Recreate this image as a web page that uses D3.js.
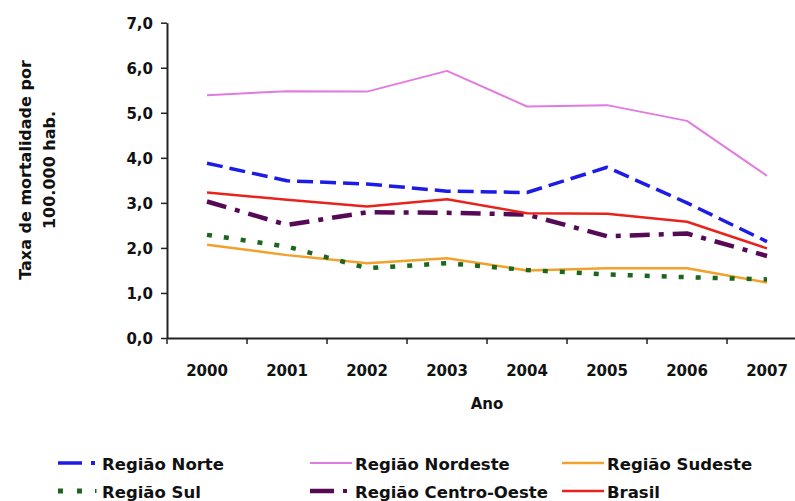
<!DOCTYPE html>
<html>
<head>
<meta charset="utf-8">
<script src="https://cdn.jsdelivr.net/npm/d3@7"></script>
<style>
  html, body { margin: 0; padding: 0; background: #fff; }
  svg { display: block; }
  text { font-family: "DejaVu Sans", Verdana, sans-serif; font-weight: bold; fill: #111; }
</style>
</head>
<body>
<svg id="chart" width="795" height="501"></svg>
<script>
const years = ["2000", "2001", "2002", "2003", "2004", "2005", "2006", "2007"];
const yTicks = [0, 1, 2, 3, 4, 5, 6, 7];

const norte       = [3.88, 3.49, 3.42, 3.26, 3.23, 3.79, 3.00, 2.14];
const nordeste    = [5.39, 5.48, 5.47, 5.93, 5.14, 5.17, 4.82, 3.60];
const sudeste     = [2.07, 1.84, 1.66, 1.77, 1.50, 1.55, 1.55, 1.23];
const sul         = [2.29, 2.03, 1.55, 1.66, 1.51, 1.41, 1.35, 1.30];
const centroOeste = [3.03, 2.51, 2.79, 2.78, 2.74, 2.26, 2.32, 1.82];
const brasil      = [3.23, 3.07, 2.92, 3.08, 2.77, 2.76, 2.58, 1.99];

const seriesNames = ["Região Norte", "Região Nordeste", "Região Sudeste",
                     "Região Sul", "Região Centro-Oeste", "Brasil"];
const seriesValues = [norte, nordeste, sudeste, sul, centroOeste, brasil];

const styles = [
  { color: "#1c1ce6", width: 3.5, dash: "16,7" },
  { color: "#e27be0", width: 2,   dash: null },
  { color: "#f2a12a", width: 2.5, dash: null },
  { color: "#1d661d", width: 4.5, dash: "5,12" },
  { color: "#560a56", width: 4.5, dash: "20,9,5,9" },
  { color: "#e8231c", width: 2.5, dash: null }
];

const svg = d3.select("#chart");

const x = d3.scaleBand().domain(years).range([167, 807]).padding(0);
const y = d3.scaleLinear().domain([0, 7]).range([338, 22.7]);
const cx = d => x(d) + x.bandwidth() / 2;

// Y axis
const yAxis = svg.append("g").attr("transform", "translate(167,0)")
  .call(d3.axisLeft(y).tickValues(yTicks).tickSize(6).tickSizeOuter(0)
        .tickFormat(d => d3.format(".1f")(d).replace(".", ",")));
yAxis.select(".domain").attr("stroke", "#222").attr("stroke-width", 2);
yAxis.selectAll(".tick line").attr("stroke", "#222").attr("stroke-width", 1.5);
yAxis.selectAll(".tick text").attr("x", -14).attr("dy", "0.36em")
  .style("font-size", "15px").style("font-family", "DejaVu Sans").style("font-weight", "bold").attr("fill", "#111");

// X axis line
const xAxis = svg.append("g").attr("transform", "translate(0,338)")
  .call(d3.axisBottom(x).tickSize(0).tickSizeOuter(0));
xAxis.select(".domain").attr("stroke", "#222").attr("stroke-width", 2);
xAxis.selectAll(".tick text").attr("y", 0).attr("dy", "38px")
  .style("font-size", "15px").style("font-family", "DejaVu Sans").style("font-weight", "bold").attr("fill", "#111");
// boundary ticks
svg.append("g").selectAll("line").data(years).join("line")
  .attr("x1", d => x(d)).attr("x2", d => x(d))
  .attr("y1", 338).attr("y2", 344)
  .attr("stroke", "#222").attr("stroke-width", 1.5);

// Axis titles
svg.append("text").attr("x", 487).attr("y", 409).attr("text-anchor", "middle")
  .style("font-size", "15px").text("Ano");
svg.append("text").attr("transform", "translate(31,170) rotate(-90)")
  .attr("text-anchor", "middle").style("font-size", "16px").text("Taxa de mortalidade por");
svg.append("text").attr("transform", "translate(55,170) rotate(-90)")
  .attr("text-anchor", "middle").style("font-size", "16px").text("100.000 hab.");

// Lines
const line = d3.line().x((d, i) => cx(years[i])).y(d => y(d));
seriesValues.forEach((vals, k) => {
  const st = styles[k];
  svg.append("path").datum(vals)
    .attr("d", line)
    .attr("fill", "none")
    .attr("stroke", st.color)
    .attr("stroke-width", st.width)
    .attr("stroke-linejoin", "round")
    .attr("stroke-dasharray", st.dash);
});

// Legend
const legCols = [58, 310, 562];
const legRows = [463, 491];
seriesNames.forEach((name, k) => {
  const col = k % 3, row = Math.floor(k / 3);
  const st = styles[k];
  const lx = legCols[col], ly = legRows[row];
  const g = svg.append("g");
  if (k === 0 || k === 4) {
    g.append("line").attr("x1", lx).attr("x2", lx + 24).attr("y1", ly).attr("y2", ly)
      .attr("stroke", st.color).attr("stroke-width", st.width);
    g.append("rect").attr("x", lx + 33).attr("y", ly - 2).attr("width", 4).attr("height", 4)
      .attr("fill", st.color);
  } else if (k === 3) {
    [0, 19].forEach(o => g.append("rect").attr("x", lx + o).attr("y", ly - 2.5)
      .attr("width", 5).attr("height", 5).attr("fill", st.color));
    g.append("rect").attr("x", lx + 37).attr("y", ly - 2).attr("width", 1.5).attr("height", 4)
      .attr("fill", st.color);
  } else {
    g.append("line").attr("x1", lx).attr("x2", lx + 42).attr("y1", ly).attr("y2", ly)
      .attr("stroke", st.color).attr("stroke-width", st.width);
  }
  const tx = col === 0 ? lx + 44 : lx + 45;
  g.append("text").attr("x", tx).attr("y", ly + 7)
    .style("font-size", "16.5px").text(name);
});
</script>
</body>
</html>
